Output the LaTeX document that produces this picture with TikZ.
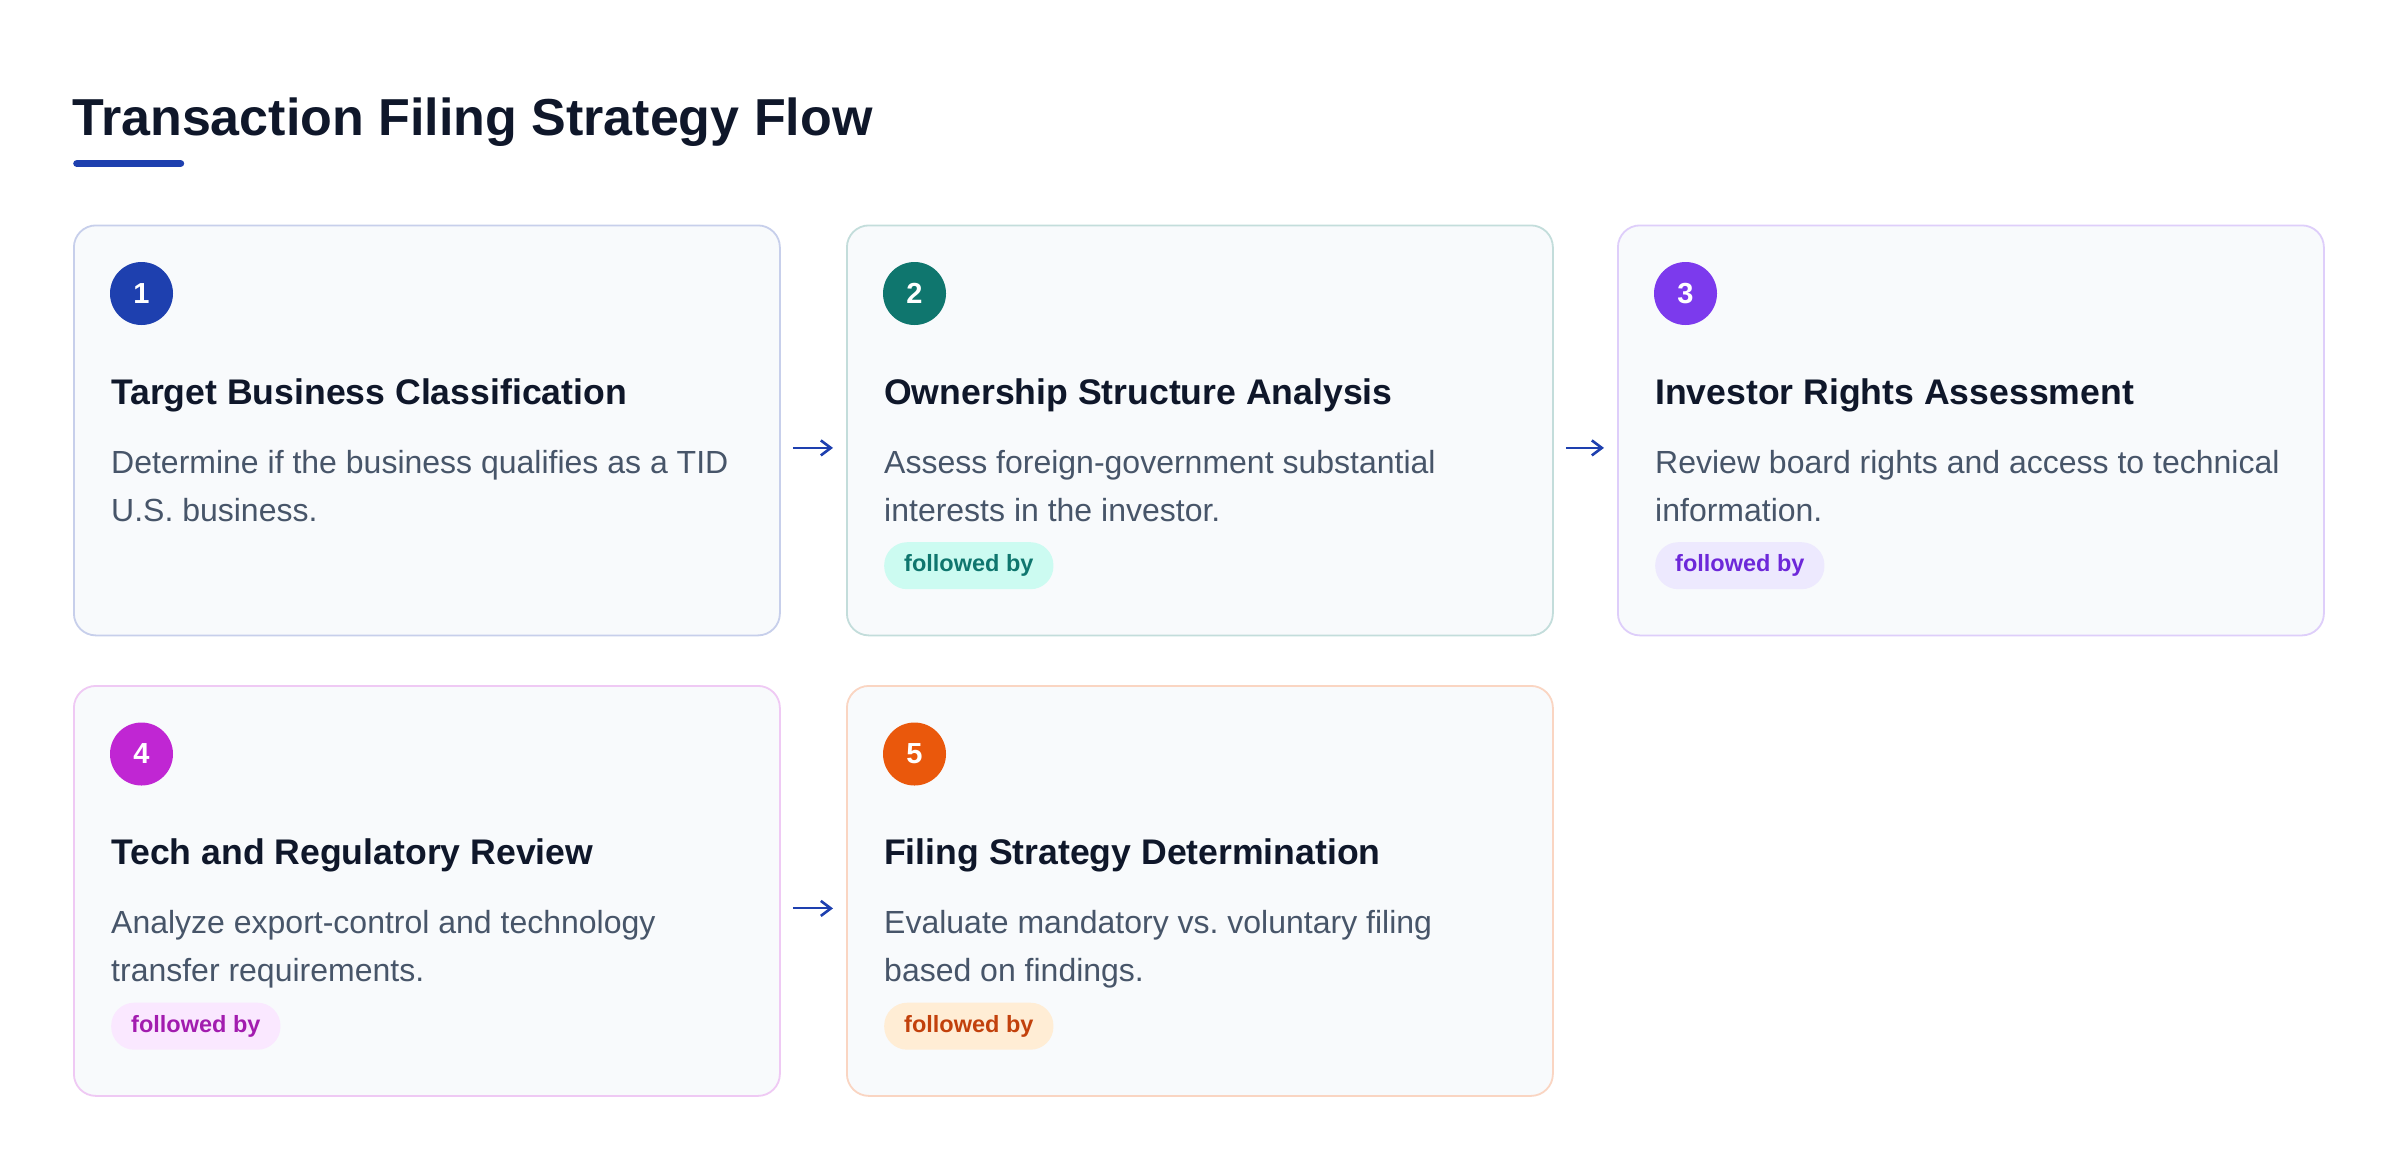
\documentclass[tikz,border=0pt]{standalone}
\usepackage{fontspec}
\setmainfont{Liberation Sans}
\usetikzlibrary{arrows.meta,calc}
\frenchspacing
\definecolor{ink}{HTML}{0F172A}
\definecolor{bodytx}{HTML}{475569}
\definecolor{cardfill}{HTML}{F8FAFC}
\definecolor{accA}{HTML}{1E40AF}
\definecolor{accB}{HTML}{0F766E}
\definecolor{accC}{HTML}{7C3AED}
\definecolor{accD}{HTML}{C026D3}
\definecolor{accE}{HTML}{EA580C}
\definecolor{bgB}{HTML}{CCFBF1}
\definecolor{bgC}{HTML}{EDE9FE}
\definecolor{bgD}{HTML}{FAE8FF}
\definecolor{bgE}{HTML}{FFEDD5}
\definecolor{txB}{HTML}{0F766E}
\definecolor{txC}{HTML}{6D28D9}
\definecolor{txD}{HTML}{A21CAF}
\definecolor{txE}{HTML}{C2410C}
\tikzset{
 cardbox/.style={draw=#1!25!white, line width=1.8pt, fill=cardfill, rounded corners=22pt,
   minimum width=706pt, minimum height=410pt, anchor=north west, inner sep=0pt},
 numdot/.style={circle, fill=#1, minimum size=63pt, inner sep=0pt, text=white,
   font=\fontsize{29}{29}\selectfont\bfseries},
 headtx/.style={anchor=base west, inner sep=0pt, text=ink, font=\fontsize{35.6}{40}\selectfont\bfseries},
 desctx/.style={anchor=base west, inner sep=0pt, text=bodytx, font=\fontsize{32}{48}\selectfont},
 badge/.style 2 args={fill=#1, text=#2, rounded corners=23pt, minimum height=47pt,
   inner xsep=20pt, inner ysep=0pt, anchor=north west, font=\fontsize{23.5}{24}\selectfont\bfseries},
 flow/.style={draw=accA, line width=2pt, -{Straight Barb[length=10pt,width=15pt,line width=2.6pt]}},
 titletx/.style={anchor=base west, inner sep=0pt, text=ink, font=\fontsize{52}{60}\selectfont\bfseries},
}
\newcommand\mkcard[8]{%
 \node[cardbox=#4] (#1) at (#2,#3) {};
 \node[numdot=#4] (#1n) at ($(#1.north west)+(68.5,69)$) {#5};
 \node[headtx] (#1h) at ($(#1.north west)+(38,179.5)$) {#6};
 \node[desctx] (#1a) at ($(#1.north west)+(38,248.5)$) {#7};
 \node[desctx] (#1b) at ($(#1.north west)+(38,296.5)$) {#8};
}
\begin{document}
\begin{tikzpicture}[x=1pt,y=-1pt]
\fill[white] (0,0) rectangle (2400,1168);
\useasboundingbox (0,0) rectangle (2400,1168);
\node[titletx] (title) at (72,135) {Transaction Filing Strategy Flow};
\node[fill=accA, rounded corners=3.4pt, minimum width=111pt, minimum height=6.8pt, inner sep=0pt, anchor=west] (bar) at (73,163.5) {};
\mkcard{c1}{73}{224.5}{accA}{1}{Target Business Classification}{Determine if the business qualifies as a TID}{U.S. business.}
\mkcard{c2}{846}{224.5}{accB}{2}{Ownership Structure Analysis}{Assess foreign-government substantial}{interests in the investor.}
\mkcard{c3}{1617}{224.5}{accC}{3}{Investor Rights Assessment}{Review board rights and access to technical}{information.}
\mkcard{c4}{73}{685}{accD}{4}{Tech and Regulatory Review}{Analyze export-control and technology}{transfer requirements.}
\mkcard{c5}{846}{685}{accE}{5}{Filing Strategy Determination}{Evaluate mandatory vs. voluntary filing}{based on findings.}
\node[badge={bgB}{txB}] (b2) at ($(c2.north west)+(38,317.5)$) {followed by};
\node[badge={bgC}{txC}] (b3) at ($(c3.north west)+(38,317.5)$) {followed by};
\node[badge={bgD}{txD}] (b4) at ($(c4.north west)+(38,317.5)$) {followed by};
\node[badge={bgE}{txE}] (b5) at ($(c5.north west)+(38,317.5)$) {followed by};
\draw[flow] ([shift={(12,17.5)}]c1.east) -- ([shift={(-13,17.5)}]c2.west);
\draw[flow] ([shift={(12,17.5)}]c2.east) -- ([shift={(-13,17.5)}]c3.west);
\draw[flow] ([shift={(12,17.5)}]c4.east) -- ([shift={(-13,17.5)}]c5.west);
\end{tikzpicture}
\end{document}
